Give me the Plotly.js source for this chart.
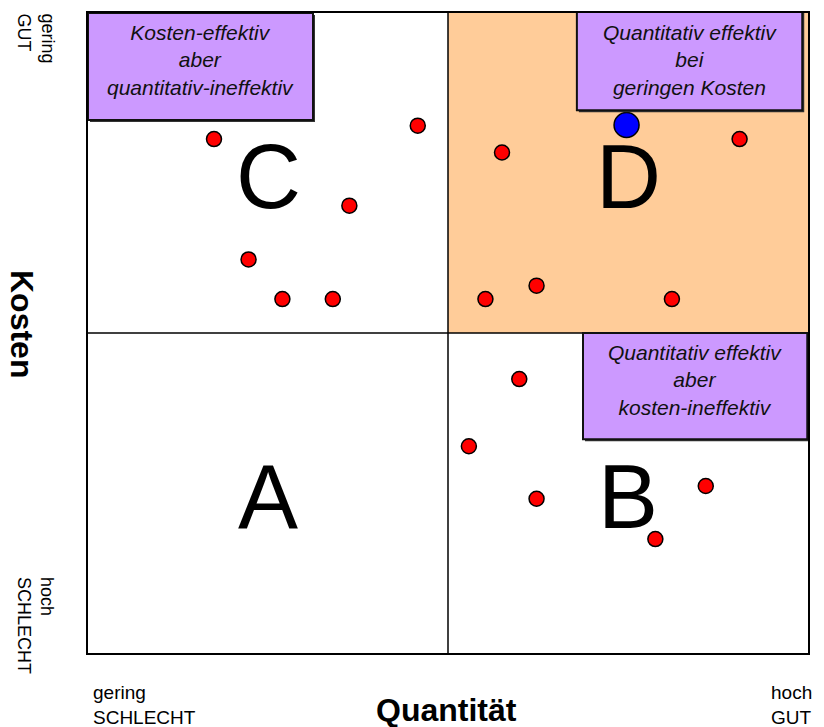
<!DOCTYPE html>
<html>
<head>
<meta charset="utf-8">
<script src="https://cdn.plot.ly/plotly-3.0.1.min.js"></script>
<style>
  html, body { margin: 0; padding: 0; background: #ffffff; }
  #chart { width: 824px; height: 727px; }
</style>
</head>
<body>
<div id="chart"></div>
<script>
// ---- data ----
const redX = [1.75, 4.58, 3.63, 2.23, 2.70, 3.40, 5.75, 9.05, 5.52, 6.23, 8.11, 5.99, 5.29, 6.23, 8.58, 7.88];
const redY = [8.03, 8.24, 6.99, 6.15, 5.53, 5.53, 7.82, 8.03, 5.53, 5.74, 5.53, 4.28, 3.23, 2.41, 2.61, 1.78];
const blueX = [7.48];
const blueY = [8.25];

const quadrantLetters = ["A", "B", "C", "D"];
const quadrantX = [2.5, 7.5, 2.5, 7.5];
const quadrantY = [2.5, 2.5, 7.5, 7.5];

const boxTexts = [
  "Kosten-effektiv<br>aber<br>quantitativ-ineffektiv",
  "Quantitativ effektiv<br>bei<br>geringen Kosten",
  "Quantitativ effektiv<br>aber<br>kosten-ineffektiv"
];
const xAxisTitle = "Quantität";
const yAxisTitle = "Kosten";
const xLowLabel = "gering<br>SCHLECHT";
const xHighLabel = "hoch<br>GUT";
const yHighLabel = "gering<br>GUT";
const yLowLabel = "hoch<br>SCHLECHT";

// ---- layout helpers ----
const W = 824, H = 727;
const M = {l: 88, r: 16, t: 13, b: 74};
const PW = W - M.l - M.r, PH = H - M.t - M.b;
const px2paperX = p => (p - M.l) / PW;
const px2paperY = p => (H - M.b - p) / PH;
const dxPx = p => p * 10 / PW;
const dyPx = p => p * 10 / PH;

const FONT = "Liberation Sans, Arial, Helvetica, sans-serif";
const purple = "#CC99FF";
const orange = "#FFCC99";

// boxes [x0,x1,y0,y1] in data units
const boxes = [
  [0.0, 3.125, 8.33, 10.0],
  [6.79, 9.92, 8.48, 10.03],
  [6.875, 9.99, 3.34, 5.0]
];
const boxTextPos = [[1.556, 9.27], [8.36, 9.27], [8.43, 4.27]];

const shapes = [
  {type: "rect", xref: "x", yref: "y", x0: 5, x1: 10, y0: 5, y1: 10,
   fillcolor: orange, line: {width: 0}, layer: "below"},
  {type: "line", xref: "x", yref: "y", x0: 5, x1: 5, y0: 0, y1: 10,
   line: {color: "#000", width: 1.5}, layer: "below"},
  {type: "line", xref: "x", yref: "y", x0: 0, x1: 10, y0: 5, y1: 5,
   line: {color: "#000", width: 1.5}, layer: "below"}
];
boxes.forEach(b => {
  shapes.push({type: "rect", xref: "x", yref: "y",
    x0: b[0] + dxPx(2), x1: b[1] + dxPx(2), y0: b[2] - dyPx(2), y1: b[3] - dyPx(2),
    fillcolor: "#333333", line: {width: 0}, layer: "above"});
  shapes.push({type: "rect", xref: "x", yref: "y",
    x0: b[0], x1: b[1], y0: b[2], y1: b[3],
    fillcolor: purple, line: {color: "#111", width: 2}, layer: "above"});
});

const annotations = [];
quadrantLetters.forEach((t, i) => {
  annotations.push({x: quadrantX[i], y: quadrantY[i], xref: "x", yref: "y",
    text: t, showarrow: false, font: {family: FONT, size: 90, color: "#000"},
    xanchor: "center", yanchor: "middle", yshift: -4});
});
boxTexts.forEach((t, i) => {
  annotations.push({x: boxTextPos[i][0], y: boxTextPos[i][1], xref: "x", yref: "y",
    text: "<i>" + t + "</i>", showarrow: false, align: "center",
    font: {family: FONT, size: 21, color: "#111"},
    xanchor: "center", yanchor: "middle"});
});
// axis titles
annotations.push({x: px2paperX(446), y: px2paperY(730), xref: "paper", yref: "paper",
  text: "<b>" + xAxisTitle + "</b>", showarrow: false,
  font: {family: FONT, size: 32, color: "#000"}, xanchor: "center", yanchor: "bottom"});
annotations.push({x: px2paperX(22), y: px2paperY(324), xref: "paper", yref: "paper",
  text: "<b>" + yAxisTitle + "</b>", showarrow: false, textangle: 90,
  font: {family: FONT, size: 32, color: "#000"}, xanchor: "center", yanchor: "middle"});
// corner labels
annotations.push({x: px2paperX(91), y: px2paperY(680), xref: "paper", yref: "paper",
  text: xLowLabel, showarrow: false, align: "left",
  font: {family: FONT, size: 19, color: "#000"}, xanchor: "left", yanchor: "top"});
annotations.push({x: px2paperX(769), y: px2paperY(680), xref: "paper", yref: "paper",
  text: xHighLabel, showarrow: false, align: "left",
  font: {family: FONT, size: 19, color: "#000"}, xanchor: "left", yanchor: "top"});
annotations.push({x: px2paperX(59), y: px2paperY(11), xref: "paper", yref: "paper",
  text: yHighLabel, showarrow: false, align: "left", textangle: 90,
  font: {family: FONT, size: 18, color: "#000"}, xanchor: "right", yanchor: "top"});
annotations.push({x: px2paperX(59), y: px2paperY(575), xref: "paper", yref: "paper",
  text: yLowLabel, showarrow: false, align: "left", textangle: 90,
  font: {family: FONT, size: 18, color: "#000"}, xanchor: "right", yanchor: "top"});

const traces = [
  {x: redX, y: redY, type: "scatter", mode: "markers", hoverinfo: "skip",
   marker: {color: "#FF0000", size: 15, line: {color: "#000", width: 1.5}}},
  {x: blueX, y: blueY, type: "scatter", mode: "markers", hoverinfo: "skip",
   marker: {color: "#0000FF", size: 25, line: {color: "#000", width: 1.5}}}
];

const axisCommon = {range: [0, 10], showgrid: false, zeroline: false,
  showticklabels: false, ticks: "", showline: true, mirror: true,
  linecolor: "#000", linewidth: 2, fixedrange: true};

const layout = {
  width: W, height: H,
  margin: M,
  paper_bgcolor: "#ffffff", plot_bgcolor: "#ffffff",
  showlegend: false,
  font: {family: FONT, color: "#000"},
  xaxis: Object.assign({}, axisCommon),
  yaxis: Object.assign({}, axisCommon),
  shapes: shapes,
  annotations: annotations
};

Plotly.newPlot("chart", traces, layout, {displayModeBar: false, staticPlot: true});
</script>
</body>
</html>
